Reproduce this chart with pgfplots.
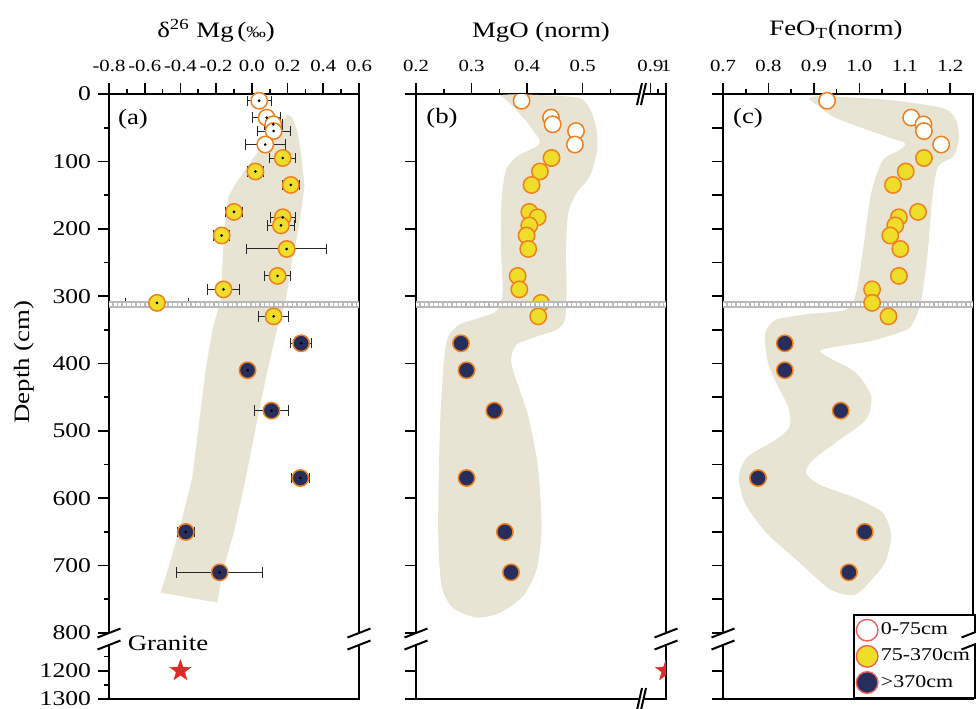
\documentclass[border=0pt]{standalone}
\usepackage{fontspec}
\setmainfont{Liberation Serif}[FakeStretch=1.22]
\usepackage{pgfplots}
\pgfplotsset{compat=1.18}
\usepackage{pgfplotstable}

\definecolor{edgeor}{RGB}{240,128,30}
\definecolor{fillyel}{RGB}{238,222,42}
\definecolor{fillnavy}{RGB}{40,46,92}
\definecolor{shade}{RGB}{232,228,211}
\definecolor{legedge}{RGB}{236,96,90}
\definecolor{granred}{RGB}{228,40,40}
\definecolor{bandgray}{RGB}{185,185,185}

% filled five-pointed star
\pgfdeclareplotmark{fstar}{%
  \pgfpathmoveto{\pgfpointpolar{90}{\pgfplotmarksize}}%
  \pgfpathlineto{\pgfpointpolar{126}{0.4\pgfplotmarksize}}%
  \pgfpathlineto{\pgfpointpolar{162}{\pgfplotmarksize}}%
  \pgfpathlineto{\pgfpointpolar{198}{0.4\pgfplotmarksize}}%
  \pgfpathlineto{\pgfpointpolar{234}{\pgfplotmarksize}}%
  \pgfpathlineto{\pgfpointpolar{270}{0.4\pgfplotmarksize}}%
  \pgfpathlineto{\pgfpointpolar{306}{\pgfplotmarksize}}%
  \pgfpathlineto{\pgfpointpolar{342}{0.4\pgfplotmarksize}}%
  \pgfpathlineto{\pgfpointpolar{18}{\pgfplotmarksize}}%
  \pgfpathlineto{\pgfpointpolar{54}{0.4\pgfplotmarksize}}%
  \pgfpathclose
  \pgfusepathqfillstroke}

% depth (cm), delta26Mg (permil), 2SD, MgO (norm), FeOT (norm)
\pgfplotstableread{
depth mg err mgo feo
10  0.041 0.068 0.390 0.929
35  0.083 0.080 0.443 1.114
45  0.120 0.050 0.446 1.141
55  0.122 0.092 0.488 1.142
75  0.075 0.113 0.486 1.180
}\shallow
\pgfplotstableread{
depth mg err mgo feo
95  0.173 0.073 0.444 1.142
115 0.020 0.047 0.423 1.102
135 0.218 0.047 0.408 1.074
175 -0.100 0.047 0.404 1.129
183 0.173 0.070 0.419 1.087
195 0.163 0.075 0.404 1.079
210 -0.169 0.045 0.399 1.068
230 0.195 0.225 0.402 1.090
270 0.144 0.072 0.383 1.087
290 -0.159 0.092 0.386 1.028
310 -0.531 0.175 0.425 1.028
330 0.122 0.082 0.420 1.064
}\middle
\pgfplotstableread{
depth mg err mgo feo
370 0.276 0.058 0.281 0.836
410 -0.024 0.041 0.291 0.836
470 0.110 0.094 0.341 0.959
570 0.272 0.050 0.291 0.777
650 -0.370 0.047 0.360 1.012
710 -0.180 0.240 0.371 0.977
}\deep

\pgfplotsset{
  panel/.style={
    scale only axis, width=125pt, height=302.5pt, anchor=north west,
    y dir=reverse, ymin=0, ymax=1300,
    % depths below 800 cm are compressed (broken axis)
    y coord trafo/.code={\pgfmathparse{##1>1000 ? 856+(##1-1200)*0.42 : ##1}},
    axis line style={line width=1pt},
    tick style={line width=0.8pt, black},
    tick align=outside,
    major tick length=5.5pt, minor tick length=2.75pt,
    xtick pos=right, xticklabel pos=right,
    ytick pos=left, yticklabel pos=left,
    xticklabel style={font=\fontsize{8.5}{10}\selectfont, yshift=2pt},
    yticklabel style={font=\fontsize{10.5}{12}\selectfont},
  },
  pt shallow/.style={only marks, mark=*, mark size=4.1pt,
    mark options={fill=white, draw=edgeor, line width=0.75pt}},
  pt middle/.style={only marks, mark=*, mark size=4.1pt,
    mark options={fill=fillyel, draw=edgeor, line width=0.75pt}},
  pt deep/.style={only marks, mark=*, mark size=4.1pt,
    mark options={fill=fillnavy, draw=edgeor, line width=0.75pt}},
  shaded/.style={draw=none, fill=shade, forget plot},
}

\newcommand{\band}[2]{%
  \fill[bandgray] (axis cs:#1,307) rectangle (axis cs:#2,317);
  \draw[white, line width=1.3pt, dash pattern=on 1.6pt off 0.7pt]
    (axis cs:#1,312) -- (axis cs:#2,312);}

\begin{document}
\begin{tikzpicture}
\path[use as bounding box] (0,0) rectangle (488pt,-354pt);

%% (a) delta26Mg
\begin{axis}[panel, at={(54.5pt,-47pt)},
  xmin=-0.8, xmax=0.6,
  xtick={-0.8,-0.6,-0.4,-0.2,0,0.2,0.4,0.6},
  xticklabels={-0.8,-0.6,-0.4,-0.2,0.0,0.2,0.4,0.6},
  minor xtick={-0.7,-0.5,-0.3,-0.1,0.1,0.3,0.5},
  ytick={0,100,200,300,400,500,600,700,800,1200,1300},
  yticklabels={0,100,200,300,400,500,600,700,800,1200,1300},
  minor ytick={50,150,250,350,450,550,650,750,1150,1250},
]
\addplot[shaded] coordinates {
  (0.200,30) (0.229,36) (0.257,58) (0.276,88) (0.295,137) (0.285,157)
  (0.257,206) (0.220,256) (0.191,305) (0.140,350) (0.088,410) (0.041,470)
  (-0.034,570) (-0.100,650) (-0.165,710) (-0.193,755) (-0.512,740)
  (-0.475,710) (-0.409,650) (-0.334,570) (-0.287,470) (-0.259,410)
  (-0.221,350) (-0.174,305) (-0.156,206) (-0.131,152) (-0.100,137)
  (0.013,93) (0.126,58) (0.190,34)};
\addplot[pt shallow] table[x=mg, y=depth] {\shallow};
\addplot[pt middle] table[x=mg, y=depth] {\middle};
\addplot[pt deep] table[x=mg, y=depth] {\deep};
\pgfplotsset{errs/.style={only marks, mark=*, mark size=0.45pt,
  mark options={fill=edgeor, draw=none},
  error bars/.cd, x dir=both, x explicit,
  error bar style={line width=0.5pt, black!85},
  error mark options={mark size=2.6pt, line width=0.5pt, black!85, rotate=90}}}
\addplot[errs] table[x=mg, y=depth, x error=err] {\shallow};
\addplot[errs] table[x=mg, y=depth, x error=err] {\middle};
\addplot[errs] table[x=mg, y=depth, x error=err] {\deep};
% granite
\addplot[only marks, mark=fstar, mark size=5.5pt,
  mark options={fill=granred, draw=granred, line width=0.2pt}]
  coordinates {(-0.4,1200)};
\band{-0.8}{0.6}
\end{axis}

%% (b) MgO
\begin{axis}[panel, at={(208pt,-47pt)},
  xmin=0.2, xmax=1.0,
  % values above 0.8 sit beyond the break
  x coord trafo/.code={\pgfmathparse{#1>0.8 ? 0.622+(#1-0.9)*0.28 : #1}},
  xtick={0.2,0.3,0.4,0.5,0.9,1.0},
  xticklabels={0.2,0.3,0.4,0.5,0.9,1},
  minor xtick={0.25,0.35,0.45,0.55,0.95},
  ytick={0,100,200,300,400,500,600,700,800,1200,1300},
  yticklabels={},
  clip marker paths=true,
]
\addplot[shaded, smooth, tension=0.45] coordinates {
  (0.351,1.5) (0.387,0.5) (0.489,5) (0.511,19) (0.524,48) (0.526,83)
  (0.513,122) (0.489,147) (0.474,177) (0.470,231) (0.471,295) (0.468,335)
  (0.453,350) (0.417,360) (0.381,372) (0.371,394) (0.378,419) (0.402,478)
  (0.420,557) (0.426,646) (0.417,706) (0.393,745) (0.351,770) (0.309,777)
  (0.267,763) (0.246,730) (0.240,646) (0.243,498) (0.250,399) (0.258,360)
  (0.279,342) (0.315,332) (0.345,322) (0.356,295) (0.353,231) (0.354,157)
  (0.362,113) (0.381,93) (0.417,78) (0.422,68) (0.399,41) (0.369,14)
  (0.351,1.5)};
\addplot[pt shallow] table[x=mgo, y=depth] {\shallow};
\addplot[pt middle] table[x=mgo, y=depth] {\middle};
\addplot[pt deep] table[x=mgo, y=depth] {\deep};
\addplot[only marks, mark=fstar, mark size=5.5pt,
  mark options={fill=granred, draw=granred, line width=0.2pt}]
  coordinates {(1.0,1200)};
\band{0.2}{1.0}
\end{axis}

%% (c) FeOT
\begin{axis}[panel, at={(361.5pt,-47pt)},
  xmin=0.7, xmax=1.25,
  xtick={0.7,0.8,0.9,1.0,1.1,1.2},
  xticklabels={0.7,0.8,0.9,1.0,1.1,1.2},
  minor xtick={0.75,0.85,0.95,1.05,1.15},
  ytick={0,50,100,150,200,250,300,350,400,450,500,550,600,650,700,750,800,1200,1300},
  yticklabels={},
  legend style={at={(1.012,0)}, anchor=south east, draw=black,
    line width=1pt, font=\fontsize{9}{10}\selectfont,
    row sep=1.6pt, inner xsep=1pt, nodes={inner xsep=1.5pt},
    cells={anchor=west}},
  legend image code/.code={\draw[#1] plot coordinates {(5.8pt,0pt)};},
]
\addplot[shaded, smooth, tension=0.45] coordinates {
  (0.889,8) (0.913,3) (1.067,9) (1.184,21) (1.213,39) (1.219,68)
  (1.206,93) (1.173,108) (1.160,157) (1.151,231) (1.140,290) (1.131,320)
  (1.111,347) (1.074,357) (1.023,367) (0.949,375) (0.913,381) (0.935,392)
  (0.993,414) (1.026,449) (1.015,483) (0.957,513) (0.898,543) (0.882,562)
  (0.913,580) (0.993,600) (1.052,622) (1.070,656) (1.056,696) (1.015,730)
  (0.986,744) (0.935,735) (0.869,696) (0.795,651) (0.748,607) (0.735,567)
  (0.755,538) (0.817,513) (0.847,493) (0.843,464) (0.817,429) (0.799,399)
  (0.792,365) (0.795,350) (0.817,335) (0.883,327) (0.971,320) (0.993,295)
  (1.008,231) (1.026,147) (1.052,98) (1.089,83) (1.100,73) (1.059,63)
  (0.949,36) (0.913,19) (0.889,8)};
\addplot[pt shallow, forget plot] table[x=feo, y=depth] {\shallow};
\addplot[pt middle, forget plot] table[x=feo, y=depth] {\middle};
\addplot[pt deep, forget plot] table[x=feo, y=depth] {\deep};
\band{0.7}{1.25}
\addlegendimage{only marks, mark=*, mark size=5.4pt,
  mark options={fill=white, draw=legedge, line width=0.7pt}}
\addlegendentry{0-75cm}
\addlegendimage{only marks, mark=*, mark size=5.4pt,
  mark options={fill=fillyel, draw=legedge, line width=0.7pt}}
\addlegendentry{75-370cm}
\addlegendimage{only marks, mark=*, mark size=5.4pt,
  mark options={fill=fillnavy, draw=legedge, line width=0.7pt}}
\addlegendentry{>370cm}
\end{axis}

%% titles, panel letters and axis breaks (pixel grid, y downwards)
\begin{scope}[x=0.5pt, y=-0.5pt, font=\fontsize{11}{13}\selectfont]
\node[anchor=base] at (216,37) {δ\textsuperscript{26} Mg\,({\footnotesize ‰})};
\node[anchor=base] at (541,37) {MgO (norm)};
\node[anchor=base] at (836,35) {FeO\textsubscript{T}(norm)};
\node[rotate=90, anchor=base] at (30,362) {Depth (cm)};
\node at (133,119) {(a)};
\node at (442,118) {(b)};
\node at (748,118) {(c)};
\node at (168,643) {Granite};
% y-axis breaks
\foreach \bx in {109,359,416,666,723,973} {
  \fill[white] (\bx-11.5,637.5) -- (\bx+11.5,628.5) -- (\bx+11.5,640.5) -- (\bx-11.5,649.5) -- cycle;
  \draw[line width=1pt] (\bx-11.5,637.5) -- (\bx+11.5,628.5);
  \draw[line width=1pt] (\bx-11.5,649.5) -- (\bx+11.5,640.5);
}
% x-axis breaks of panel (b)
\foreach \by in {94,699} {
  \fill[white] (637,\by+11) -- (642,\by-11) -- (646,\by-11) -- (641,\by+11) -- cycle;
  \draw[line width=1pt] (637,\by+11) -- (642,\by-11);
  \draw[line width=1pt] (641,\by+11) -- (646,\by-11);
}
\end{scope}
\end{tikzpicture}
\end{document}
